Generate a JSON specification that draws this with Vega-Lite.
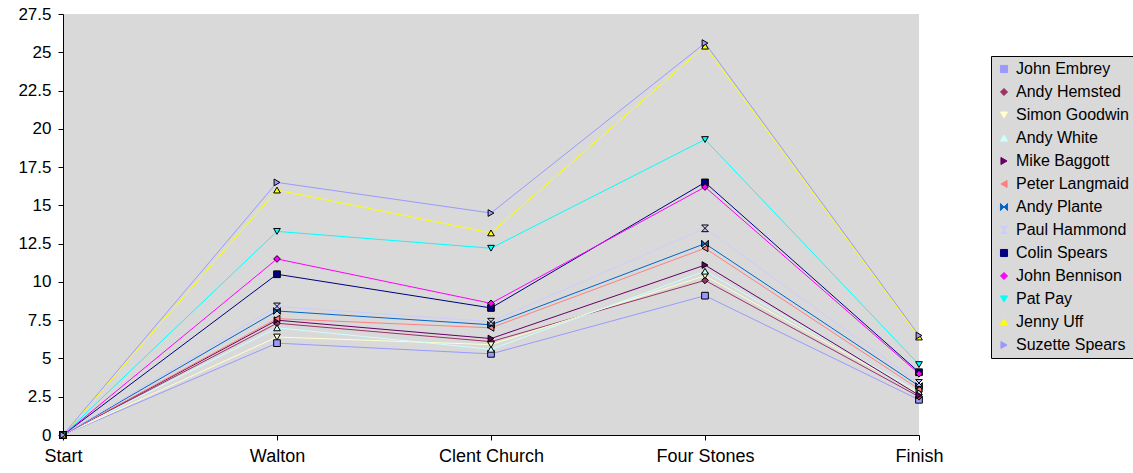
{
  "$schema": "https://vega.github.io/schema/vega-lite/v6.json",
  "width": 856,
  "height": 421,
  "autosize": {"type": "none"},
  "padding": {"left": 63, "top": 14, "right": 214, "bottom": 38},
  "background": "white",
  "config": {
    "view": {"fill": "#D9D9D9", "stroke": null},
    "font": "Liberation Sans",
    "axis": {"labelFont": "Liberation Sans", "labelColor": "black", "domainColor": "black", "tickColor": "black", "grid": false, "title": null},
    "legend": {"symbolStrokeColor": "black", "symbolStrokeWidth": 1}
  },
  "data": {
    "values": [
      {"runner": "John Embrey", "stage": "Start", "time": 0},
      {"runner": "John Embrey", "stage": "Walton", "time": 6.0},
      {"runner": "John Embrey", "stage": "Clent Church", "time": 5.3},
      {"runner": "John Embrey", "stage": "Four Stones", "time": 9.1},
      {"runner": "John Embrey", "stage": "Finish", "time": 2.3},
      {"runner": "Andy Hemsted", "stage": "Start", "time": 0},
      {"runner": "Andy Hemsted", "stage": "Walton", "time": 7.3},
      {"runner": "Andy Hemsted", "stage": "Clent Church", "time": 6.1},
      {"runner": "Andy Hemsted", "stage": "Four Stones", "time": 10.1},
      {"runner": "Andy Hemsted", "stage": "Finish", "time": 2.5},
      {"runner": "Simon Goodwin", "stage": "Start", "time": 0},
      {"runner": "Simon Goodwin", "stage": "Walton", "time": 6.4},
      {"runner": "Simon Goodwin", "stage": "Clent Church", "time": 5.9},
      {"runner": "Simon Goodwin", "stage": "Four Stones", "time": 10.4},
      {"runner": "Simon Goodwin", "stage": "Finish", "time": 2.7},
      {"runner": "Andy White", "stage": "Start", "time": 0},
      {"runner": "Andy White", "stage": "Walton", "time": 7.0},
      {"runner": "Andy White", "stage": "Clent Church", "time": 5.6},
      {"runner": "Andy White", "stage": "Four Stones", "time": 10.7},
      {"runner": "Andy White", "stage": "Finish", "time": 2.8},
      {"runner": "Mike Baggott", "stage": "Start", "time": 0},
      {"runner": "Mike Baggott", "stage": "Walton", "time": 7.5},
      {"runner": "Mike Baggott", "stage": "Clent Church", "time": 6.3},
      {"runner": "Mike Baggott", "stage": "Four Stones", "time": 11.1},
      {"runner": "Mike Baggott", "stage": "Finish", "time": 2.6},
      {"runner": "Peter Langmaid", "stage": "Start", "time": 0},
      {"runner": "Peter Langmaid", "stage": "Walton", "time": 7.6},
      {"runner": "Peter Langmaid", "stage": "Clent Church", "time": 7.0},
      {"runner": "Peter Langmaid", "stage": "Four Stones", "time": 12.2},
      {"runner": "Peter Langmaid", "stage": "Finish", "time": 3.0},
      {"runner": "Andy Plante", "stage": "Start", "time": 0},
      {"runner": "Andy Plante", "stage": "Walton", "time": 8.1},
      {"runner": "Andy Plante", "stage": "Clent Church", "time": 7.2},
      {"runner": "Andy Plante", "stage": "Four Stones", "time": 12.5},
      {"runner": "Andy Plante", "stage": "Finish", "time": 3.2},
      {"runner": "Paul Hammond", "stage": "Start", "time": 0},
      {"runner": "Paul Hammond", "stage": "Walton", "time": 8.4},
      {"runner": "Paul Hammond", "stage": "Clent Church", "time": 7.4},
      {"runner": "Paul Hammond", "stage": "Four Stones", "time": 13.5},
      {"runner": "Paul Hammond", "stage": "Finish", "time": 3.4},
      {"runner": "Colin Spears", "stage": "Start", "time": 0},
      {"runner": "Colin Spears", "stage": "Walton", "time": 10.5},
      {"runner": "Colin Spears", "stage": "Clent Church", "time": 8.3},
      {"runner": "Colin Spears", "stage": "Four Stones", "time": 16.5},
      {"runner": "Colin Spears", "stage": "Finish", "time": 4.1},
      {"runner": "John Bennison", "stage": "Start", "time": 0},
      {"runner": "John Bennison", "stage": "Walton", "time": 11.5},
      {"runner": "John Bennison", "stage": "Clent Church", "time": 8.6},
      {"runner": "John Bennison", "stage": "Four Stones", "time": 16.2},
      {"runner": "John Bennison", "stage": "Finish", "time": 4.0},
      {"runner": "Pat Pay", "stage": "Start", "time": 0},
      {"runner": "Pat Pay", "stage": "Walton", "time": 13.3},
      {"runner": "Pat Pay", "stage": "Clent Church", "time": 12.2},
      {"runner": "Pat Pay", "stage": "Four Stones", "time": 19.3},
      {"runner": "Pat Pay", "stage": "Finish", "time": 4.6},
      {"runner": "Jenny Uff", "stage": "Start", "time": 0},
      {"runner": "Jenny Uff", "stage": "Walton", "time": 16.0},
      {"runner": "Jenny Uff", "stage": "Clent Church", "time": 13.2},
      {"runner": "Jenny Uff", "stage": "Four Stones", "time": 25.4},
      {"runner": "Jenny Uff", "stage": "Finish", "time": 6.4},
      {"runner": "Suzette Spears", "stage": "Start", "time": 0},
      {"runner": "Suzette Spears", "stage": "Walton", "time": 16.5},
      {"runner": "Suzette Spears", "stage": "Clent Church", "time": 14.5},
      {"runner": "Suzette Spears", "stage": "Four Stones", "time": 25.6},
      {"runner": "Suzette Spears", "stage": "Finish", "time": 6.5}
    ]
  },
  "encoding": {
    "x": {
      "field": "stage", "type": "ordinal",
      "sort": ["Start", "Walton", "Clent Church", "Four Stones", "Finish"],
      "scale": {"type": "point", "padding": 0},
      "axis": {"labelAngle": 0, "labelFontSize": 18, "tickSize": 5, "labelPadding": 7}
    },
    "y": {
      "field": "time", "type": "quantitative",
      "scale": {"domain": [0, 27.5], "nice": false},
      "axis": {"values": [0, 2.5, 5, 7.5, 10, 12.5, 15, 17.5, 20, 22.5, 25, 27.5], "format": ".1~f", "labelFontSize": 17, "tickSize": 5, "labelPadding": 7, "labelFlush": false}
    },
    "color": {
      "field": "runner", "type": "nominal",
      "scale": {
        "domain": ["John Embrey", "Andy Hemsted", "Simon Goodwin", "Andy White", "Mike Baggott", "Peter Langmaid", "Andy Plante", "Paul Hammond", "Colin Spears", "John Bennison", "Pat Pay", "Jenny Uff", "Suzette Spears"],
        "range": ["#9999FF", "#993366", "#FFFFCC", "#CCFFFF", "#660066", "#FF8080", "#0066CC", "#CCCCFF", "#000080", "#FF00FF", "#00FFFF", "#FFFF00", "#9999FF"]
      },
      "legend": {
        "title": null, "orient": "none", "legendX": 928, "legendY": 42,
        "padding": 5, "labelFontSize": 16, "labelFont": "Liberation Sans", "labelColor": "black",
        "symbolSize": 50, "symbolStrokeColor": "black", "symbolStrokeWidth": 1,
        "rowPadding": 7, "labelOffset": 4,
        "strokeColor": "black", "fillColor": "#D9D9D9",
        "encode": {"symbols": {"enter": {"stroke": {"value": "black"}, "strokeWidth": {"value": 1}}, "update": {"stroke": {"value": "black"}, "strokeWidth": {"value": 1}, "opacity": {"value": 1}}}}
      }
    }
  },
  "layer": [
    {
      "mark": {"type": "line", "strokeWidth": 1}
    },
    {
      "mark": {"type": "point", "filled": true, "stroke": "black", "strokeWidth": 1, "size": 45, "opacity": 1},
      "encoding": {
        "shape": {
          "field": "runner", "type": "nominal",
          "scale": {
            "domain": ["John Embrey", "Andy Hemsted", "Simon Goodwin", "Andy White", "Mike Baggott", "Peter Langmaid", "Andy Plante", "Paul Hammond", "Colin Spears", "John Bennison", "Pat Pay", "Jenny Uff", "Suzette Spears"],
            "range": ["square", "diamond", "triangle-down", "triangle-up", "triangle-right", "triangle-left", "M-1,-1L1,1L1,-1L-1,1Z", "M-1,-1L1,-1L-1,1L1,1Z", "square", "diamond", "triangle-down", "triangle-up", "triangle-right"]
          },
          "legend": {
            "title": null, "orient": "none", "legendX": 928, "legendY": 42,
            "padding": 5, "labelFontSize": 16, "labelFont": "Liberation Sans", "labelColor": "black",
            "symbolSize": 50, "symbolStrokeColor": "black", "symbolStrokeWidth": 1,
            "rowPadding": 7, "labelOffset": 4,
            "strokeColor": "black", "fillColor": "#D9D9D9",
            "encode": {"symbols": {"enter": {"stroke": {"value": "black"}, "strokeWidth": {"value": 1}}, "update": {"stroke": {"value": "black"}, "strokeWidth": {"value": 1}, "opacity": {"value": 1}}}}
          }
        }
      }
    }
  ]
}
